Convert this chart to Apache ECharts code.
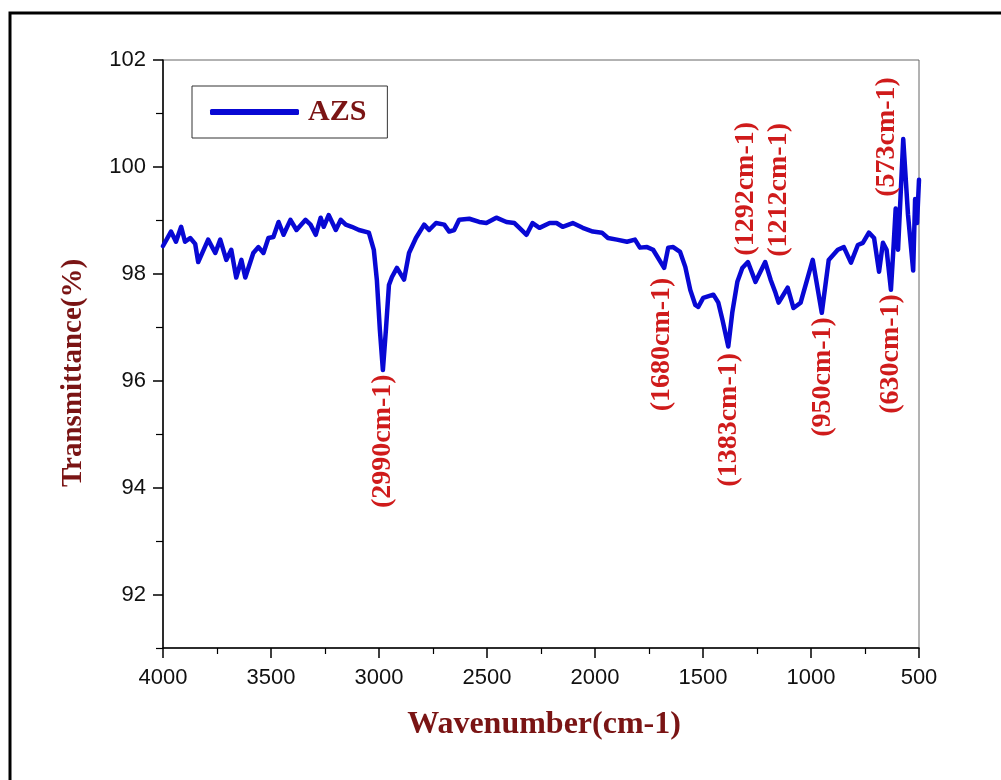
<!DOCTYPE html>
<html>
<head>
<meta charset="utf-8">
<script src="https://cdn.jsdelivr.net/npm/echarts@6/dist/echarts.min.js"></script>
<style>
html,body{margin:0;padding:0;background:#fff;}
#chart{width:1001px;height:780px;}
</style>
</head>
<body>
<div id="chart"></div>
<script>
// ---- data ----
const seriesName = 'AZS';
const wavenumbers = [4000,3991,3963,3940,3916,3898,3874,3851,3837,3791,3758,3735,3707,3684,3661,3637,3619,3582,3558,3535,3512,3489,3465,3442,3410,3382,3340,3317,3293,3270,3256,3233,3200,3177,3154,3126,3093,3047,3024,3010,2996,2982,2968,2954,2940,2917,2884,2861,2829,2791,2768,2736,2698,2675,2652,2629,2582,2536,2503,2457,2410,2373,2350,2317,2289,2257,2210,2178,2150,2103,2057,2010,1968,1940,1899,1852,1815,1792,1759,1731,1680,1661,1638,1606,1582,1559,1536,1522,1499,1452,1429,1410,1383,1364,1341,1318,1292,1257,1212,1187,1164,1150,1108,1081,1048,992,950,918,876,848,815,783,760,732,708,685,667,650,630,618,608,597,573,551,527,518,509,500];
const transmittance = [98.52,98.50,98.79,98.60,98.88,98.60,98.67,98.56,98.22,98.64,98.39,98.64,98.26,98.45,97.93,98.26,97.93,98.39,98.50,98.39,98.67,98.69,98.97,98.73,99.01,98.82,99.01,98.92,98.73,99.05,98.88,99.10,98.82,99.01,98.92,98.88,98.82,98.77,98.45,97.89,96.95,96.20,96.95,97.79,97.94,98.11,97.89,98.39,98.67,98.92,98.82,98.95,98.92,98.79,98.82,99.01,99.03,98.97,98.95,99.05,98.97,98.95,98.86,98.73,98.95,98.86,98.95,98.95,98.88,98.95,98.86,98.79,98.77,98.67,98.64,98.60,98.64,98.49,98.50,98.45,98.11,98.49,98.50,98.41,98.13,97.70,97.42,97.38,97.55,97.61,97.46,97.14,96.64,97.29,97.85,98.11,98.22,97.85,98.22,97.89,97.64,97.46,97.74,97.36,97.46,98.26,97.27,98.26,98.45,98.50,98.21,98.54,98.58,98.77,98.67,98.04,98.58,98.45,97.70,98.50,99.22,98.45,100.52,99.11,98.06,99.40,98.95,99.76];

const xTickInterval = 500;
const xMin = 500, xMax = 4000;
const yMin = 91, yMax = 102;
const yMajorTicks = [92, 94, 96, 98, 100, 102];
const yMinorTicks = [91, 93, 95, 97, 99, 101];

// peak annotations: text, anchor wavenumber, anchor transmittance, side of the curve
const peakLabels = ['(2990cm-1)','(1680cm-1)','(1383cm-1)','(950cm-1)','(630cm-1)','(1292cm-1)','(1212cm-1)','(573cm-1)'];
const peakLabelWavenumbers = [2982, 1689, 1383, 946, 630, 1304, 1150, 648];
const peakLabelLevels = [96.12, 97.93, 96.52, 97.19, 97.62, 98.34, 98.32, 99.44];
const peakLabelSides = ['below','below','below','below','below','above','above','above'];

const xAxisTitle = 'Wavenumber(cm-1)';
const yAxisTitle = 'Transmittance(%)';

// ---- chart ----
const chart = echarts.init(document.getElementById('chart'), null, {renderer: 'canvas'});

const lineData = wavenumbers.map((w, i) => [w, transmittance[i]]);
const labelData = peakLabels.map((t, i) => ({
  value: [peakLabelWavenumbers[i], peakLabelLevels[i]],
  name: t,
  label: { align: peakLabelSides[i] === 'below' ? 'right' : 'left' }
}));

const titleRed = '#7a1414';
const annoRed = '#cf1b1b';
const lineBlue = '#0808d4';

const option = {
  backgroundColor: '#ffffff',
  animation: false,
  grid: {
    left: 163, right: 82, top: 60, bottom: 132,
    show: true, borderColor: '#666', borderWidth: 1
  },
  legend: {
    data: [seriesName],
    left: 192, top: 86,
    icon: 'roundRect',
    itemWidth: 89, itemHeight: 6, itemGap: 10,
    borderColor: '#333', borderWidth: 1,
    padding: [11, 21, 11, 18],
    selectedMode: false,
    textStyle: {
      fontFamily: 'Liberation Serif', fontWeight: 'bold',
      fontSize: 30, color: titleRed, padding: [0, 0, 0, 4]
    }
  },
  xAxis: {
    type: 'value', min: xMin, max: xMax, interval: xTickInterval, inverse: true,
    axisLine: { lineStyle: { color: '#000', width: 1.5 } },
    axisTick: { length: 10, lineStyle: { color: '#000', width: 1.5 } },
    minorTick: { show: true, splitNumber: 2, length: 6, lineStyle: { color: '#000', width: 1.2 } },
    splitLine: { show: false },
    axisLabel: { fontFamily: 'Liberation Sans', fontSize: 22, color: '#111', margin: 19,
      formatter: v => String(v) }
  },
  yAxis: [
    {
      type: 'value', min: yMin, max: yMax, interval: 1,
      axisLine: { show: true, lineStyle: { color: '#000', width: 1.5 } },
      axisTick: { show: true, customValues: yMajorTicks, length: 10, lineStyle: { color: '#000', width: 1.5 } },
      axisLabel: { customValues: yMajorTicks, fontFamily: 'Liberation Sans', fontSize: 22, color: '#111', margin: 17,
        formatter: v => String(v) },
      splitLine: { show: false }
    },
    {
      type: 'value', min: yMin, max: yMax, interval: 1, position: 'left',
      axisLine: { show: false },
      axisTick: { show: true, customValues: yMinorTicks, length: 7, lineStyle: { color: '#000', width: 1.2 } },
      axisLabel: { show: false },
      splitLine: { show: false }
    }
  ],
  graphic: [
    {
      type: 'rect', silent: true, z: 100,
      shape: { x: 10, y: 13, width: 1010, height: 800 },
      style: { fill: 'none', stroke: '#000', lineWidth: 3 }
    },
    {
      type: 'text', x: 74, y: 373, rotation: Math.PI / 2, silent: true,
      style: {
        text: yAxisTitle, fill: titleRed,
        font: 'bold 29px "Liberation Serif"', align: 'center', verticalAlign: 'middle'
      }
    },
    {
      type: 'text', x: 544, y: 725, silent: true,
      style: {
        text: xAxisTitle, fill: titleRed,
        font: 'bold 32px "Liberation Serif"', align: 'center', verticalAlign: 'middle'
      }
    }
  ],
  series: [
    {
      name: seriesName, type: 'line', data: lineData,
      showSymbol: false, symbol: 'none',
      lineStyle: { color: lineBlue, width: 4.5, join: 'round', cap: 'round' },
      itemStyle: { color: lineBlue },
      z: 3
    },
    {
      name: 'peaks', type: 'scatter', data: labelData,
      symbolSize: 0, silent: true, z: 4,
      itemStyle: { color: annoRed, opacity: 1 },
      label: {
        show: true, position: 'inside', rotate: 90,
        verticalAlign: 'middle',
        formatter: p => p.name,
        textBorderWidth: 0, textBorderColor: 'transparent', opacity: 1,
        fontFamily: 'Liberation Serif', fontWeight: 'bold', fontSize: 28, color: annoRed
      }
    }
  ]
};
chart.setOption(option);
</script>
</body>
</html>
